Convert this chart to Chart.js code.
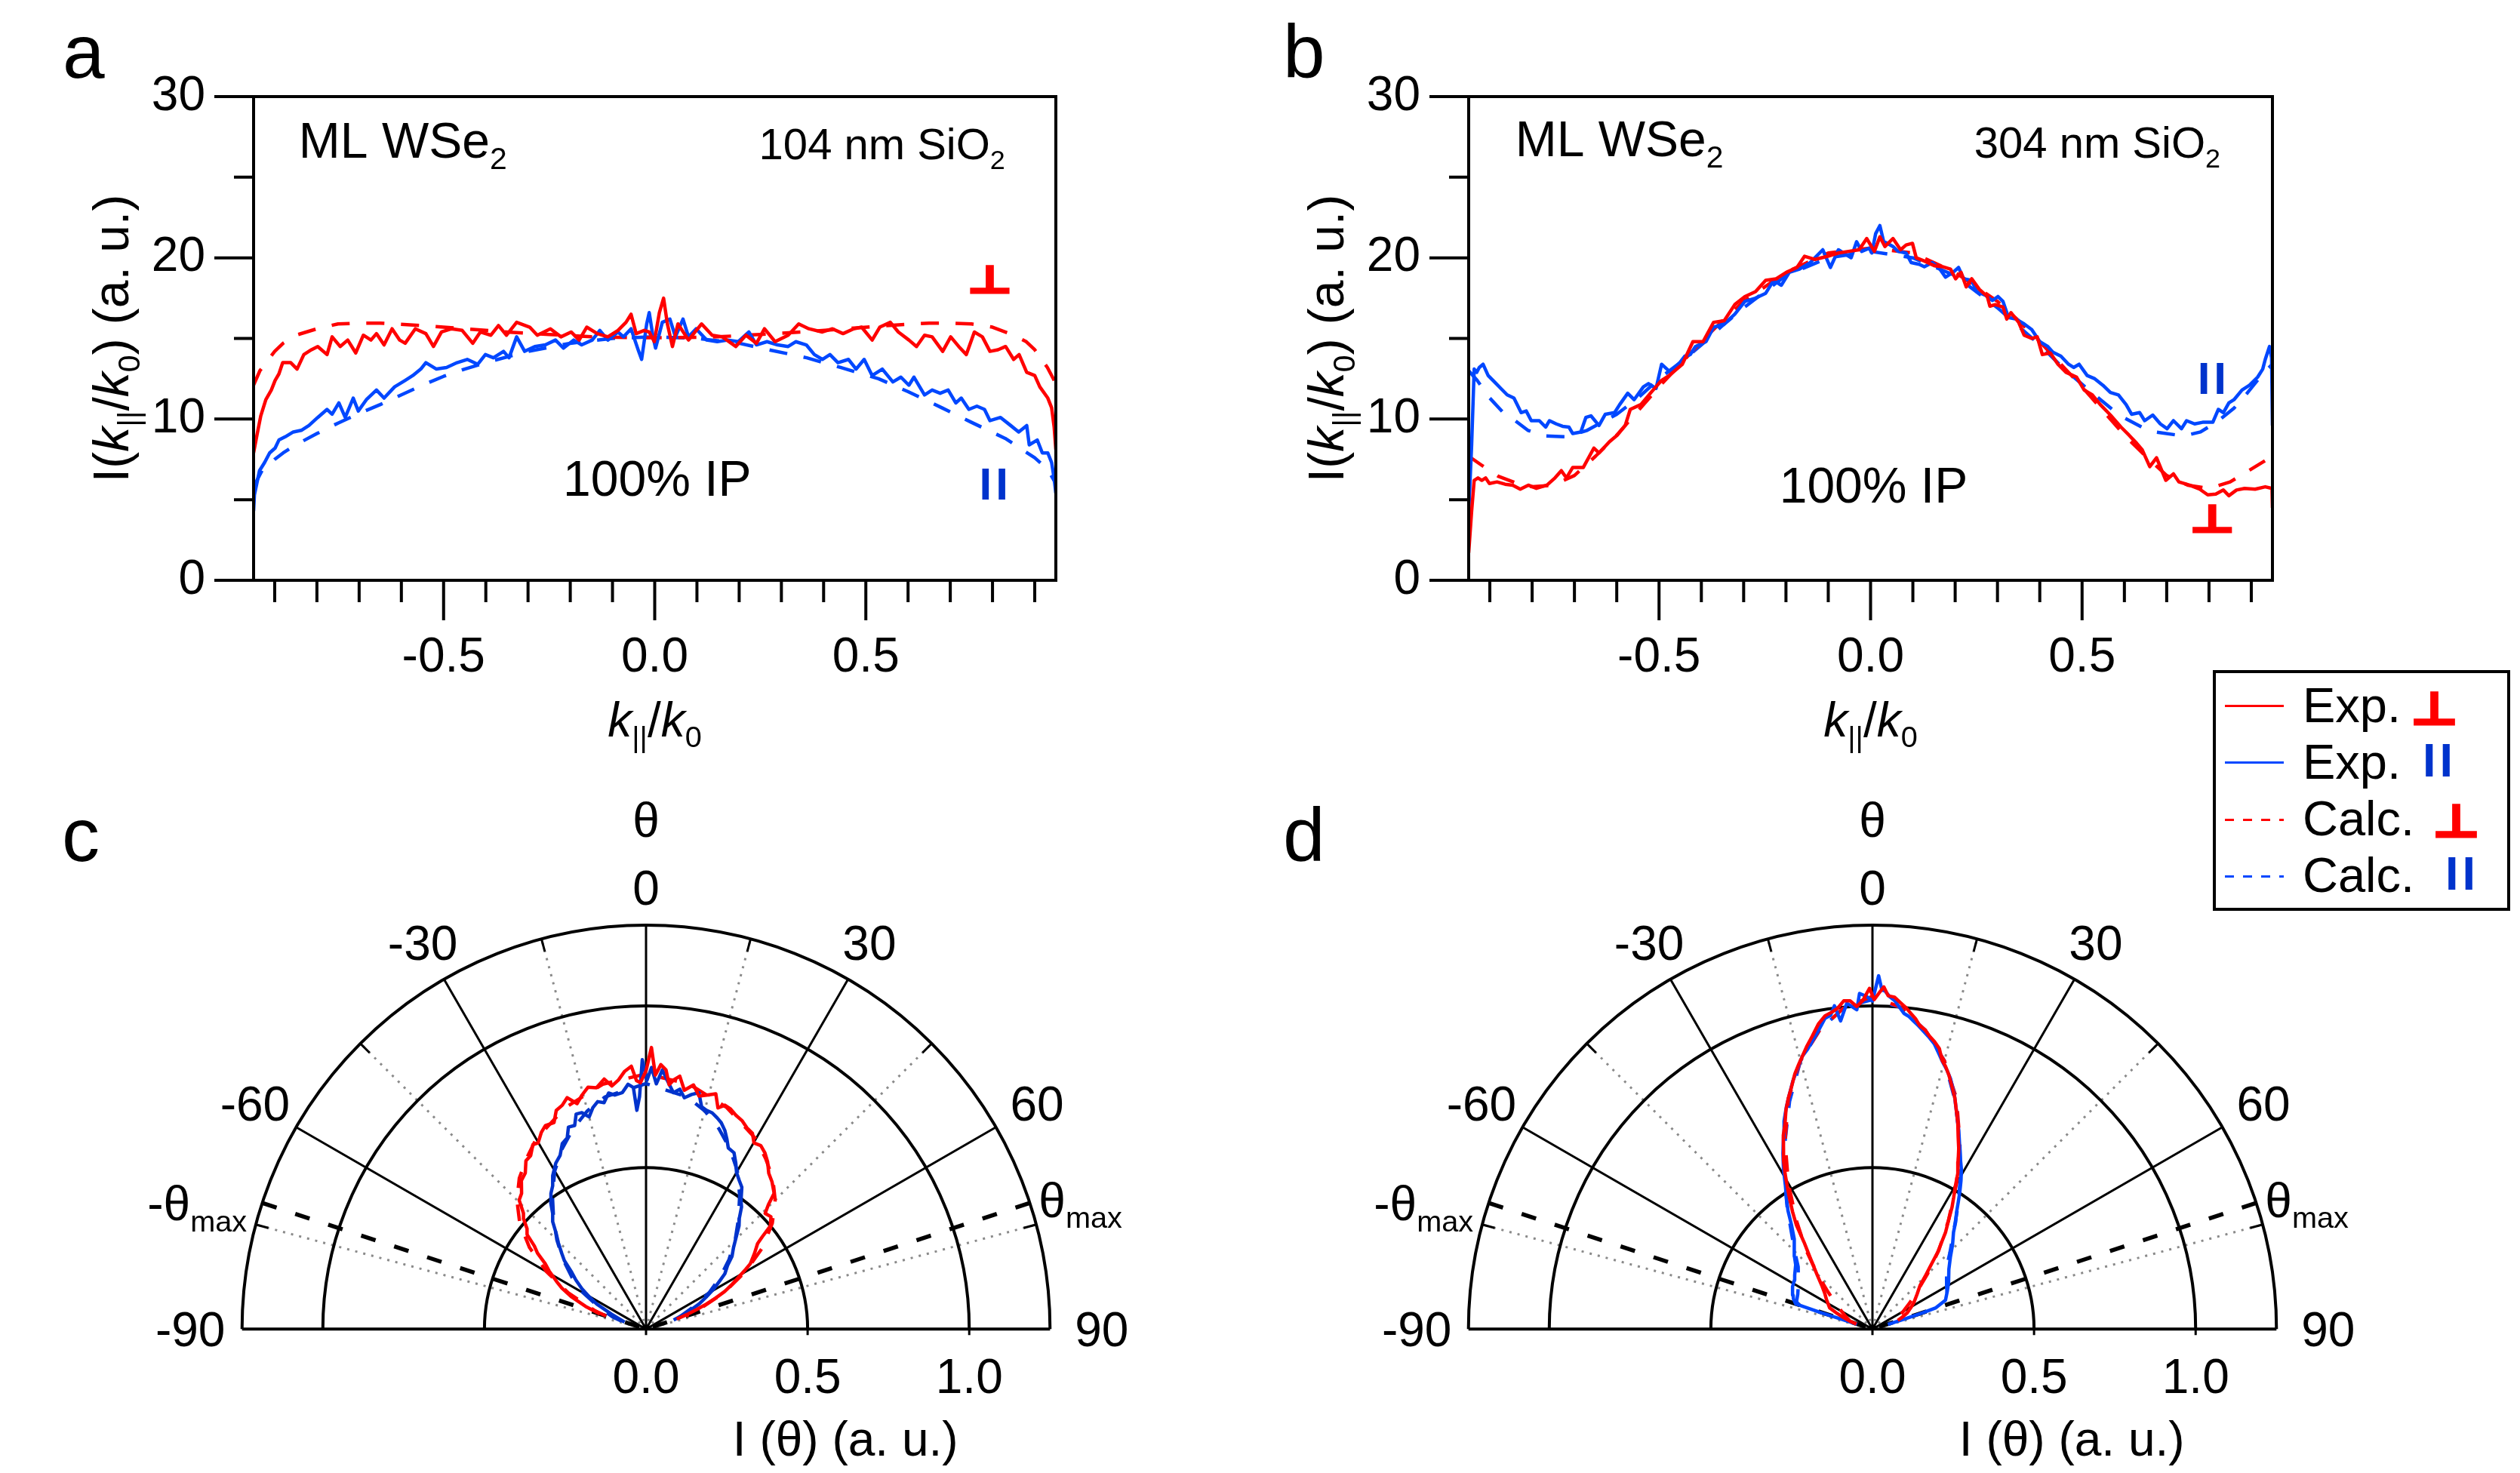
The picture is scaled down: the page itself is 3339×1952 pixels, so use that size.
<!DOCTYPE html>
<html>
<head>
<meta charset="utf-8">
<script src="https://cdn.jsdelivr.net/npm/chart.js@4.4.1/dist/chart.umd.min.js"></script>
<style>
  body { margin: 0; background: #fff; }
  #fig { position: relative; width: 3339px; height: 1952px; font-family: "Liberation Sans", Arial, Helvetica, sans-serif; }
  #fig canvas { position: absolute; }
  .tag { position: absolute; font-size: 100px; line-height: 1; }
  #legend { position: absolute; left: 2932px; top: 888px; width: 394px; height: 319px; box-sizing: border-box; border: 4px solid #000; }
  #legend .key { position: absolute; left: 12px; width: 78px; height: 3px; }
  #legend .txt { position: absolute; left: 115px; font-size: 65px; line-height: 1; white-space: nowrap; }
  #legend .perp { position: absolute; font-family: "DejaVu Sans", sans-serif; font-weight: bold; font-size: 60px; line-height: 1;
                  color: #ff0000; -webkit-text-stroke: 3px #ff0000; transform: scaleX(1.15); transform-origin: left bottom; }
  #legend .par { position: absolute; font-weight: bold; font-size: 63px; line-height: 1; letter-spacing: 5px; color: #0033cc; }
</style>
</head>
<body>
<div id="fig">
  <canvas id="ca" width="1440" height="1000" style="left:0;top:0"></canvas>
  <canvas id="cb" width="1440" height="1000" style="left:1610px;top:0"></canvas>
  <canvas id="cc" width="1456" height="899" style="left:128px;top:1055px"></canvas>
  <canvas id="cd" width="1456" height="899" style="left:1753px;top:1055px"></canvas>
  <div class="tag" style="left:83px;top:18px">a</div>
  <div class="tag" style="left:1700px;top:18px">b</div>
  <div class="tag" style="left:82px;top:1056px">c</div>
  <div class="tag" style="left:1700px;top:1056px">d</div>
  <div id="legend">
    <div class="key" style="top:42px;background:#ff0000"></div>
    <div class="key" style="top:117px;background:#0047ff"></div>
    <div class="key" style="top:193px;background:repeating-linear-gradient(to right,#ff0000 0 12px,transparent 12px 24px)"></div>
    <div class="key" style="top:268px;background:repeating-linear-gradient(to right,#0047ff 0 12px,transparent 12px 24px)"></div>
    <div class="txt" style="top:10px">Exp.</div>
    <div class="txt" style="top:85px">Exp.</div>
    <div class="txt" style="top:160px">Calc.</div>
    <div class="txt" style="top:235px">Calc.</div>
    <div class="perp" style="left:258px;top:17px">⊥</div>
    <div class="par" style="left:274px;top:84px">II</div>
    <div class="perp" style="left:287px;top:166px">⊥</div>
    <div class="par" style="left:304px;top:234px">II</div>
  </div>
</div>
<script>
const FONT = '"Liberation Sans", Arial, Helvetica, sans-serif';
const SYMFONT = '"DejaVu Sans", sans-serif';
const RED = '#ff0000', BLUE = '#0047ff', DBLUE = '#0033cc';

// axis ticks for panels a and b
const kTicks = [-0.9, -0.8, -0.7, -0.6, -0.5, -0.4, -0.3, -0.2, -0.1, 0, 0.1, 0.2, 0.3, 0.4, 0.5, 0.6, 0.7, 0.8, 0.9];
const kLabels = [-0.5, 0, 0.5];
const iTicks = [0, 5, 10, 15, 20, 25, 30];
const iLabels = [0, 10, 20, 30];

// panel a: 104 nm SiO2, [k/k0, I]
const aExpPerp = [[-0.95,7.9],[-0.942,9.0],[-0.933,10.2],[-0.921,11.2],[-0.908,11.8],[-0.899,12.4],[-0.89,12.8],[-0.881,13.5],[-0.862,13.5],[-0.847,13.1],
  [-0.831,14.0],[-0.813,14.3],[-0.798,14.5],[-0.776,14.0],[-0.764,15.1],[-0.745,14.5],[-0.727,14.9],[-0.708,14.1],[-0.69,15.2],[-0.672,14.9],
  [-0.659,15.3],[-0.641,14.6],[-0.622,15.6],[-0.604,14.9],[-0.591,14.7],[-0.567,15.6],[-0.542,15.3],[-0.524,14.5],[-0.505,15.4],[-0.481,15.6],
  [-0.456,15.5],[-0.431,14.7],[-0.413,15.4],[-0.388,15.2],[-0.37,15.8],[-0.351,15.2],[-0.327,16.0],[-0.296,15.7],[-0.278,15.2],[-0.247,15.6],
  [-0.222,15.1],[-0.198,15.4],[-0.179,14.9],[-0.161,15.7],[-0.136,15.3],[-0.111,15.1],[-0.087,15.5],[-0.068,16.0],[-0.056,16.5],[-0.044,15.3],
  [-0.025,15.5],[-0.013,15.4],[-0.001,14.8],[0.011,16.6],[0.021,17.5],[0.03,15.9],[0.042,14.5],[0.055,15.9],[0.08,14.9],[0.111,15.9],
  [0.136,15.2],[0.16,15.1],[0.192,14.5],[0.216,15.2],[0.241,14.7],[0.26,15.6],[0.285,14.8],[0.316,15.2],[0.341,15.9],[0.365,15.6],
  [0.397,15.4],[0.421,15.6],[0.446,15.3],[0.471,15.6],[0.49,15.7],[0.515,14.9],[0.533,15.7],[0.558,16.0],[0.577,15.4],[0.602,14.9],
  [0.62,14.5],[0.639,15.2],[0.657,15.1],[0.682,14.2],[0.701,15.1],[0.72,14.5],[0.738,14.0],[0.757,15.4],[0.776,15.1],[0.794,14.2],
  [0.813,14.3],[0.831,14.5],[0.85,13.7],[0.863,14.0],[0.881,12.9],[0.9,12.7],[0.912,12.0],[0.931,11.3],[0.94,10.7],[0.946,9.5],[0.95,8.1]];
const aExpPar = [[-0.95,4.3],[-0.948,5.3],[-0.936,6.8],[-0.924,7.3],[-0.912,7.9],[-0.899,8.2],[-0.89,8.7],[-0.875,8.9],[-0.856,9.2],[-0.837,9.3],
  [-0.819,9.6],[-0.798,10.1],[-0.776,10.6],[-0.764,10.3],[-0.748,11.0],[-0.733,10.1],[-0.714,11.3],[-0.702,10.5],[-0.683,11.2],[-0.659,11.8],
  [-0.641,11.3],[-0.616,12.0],[-0.591,12.4],[-0.573,12.7],[-0.554,13.1],[-0.542,13.5],[-0.517,13.1],[-0.493,13.2],[-0.468,13.5],[-0.444,13.7],
  [-0.419,13.4],[-0.401,14.0],[-0.382,13.8],[-0.358,14.2],[-0.345,13.8],[-0.327,15.1],[-0.308,14.2],[-0.284,14.5],[-0.259,14.6],[-0.235,14.9],
  [-0.216,14.4],[-0.192,14.9],[-0.173,14.6],[-0.148,14.9],[-0.13,15.5],[-0.111,14.9],[-0.087,15.4],[-0.074,15.1],[-0.056,15.6],[-0.038,14.2],
  [-0.031,13.7],[-0.019,15.9],[-0.013,16.6],[-0.004,15.1],[0.002,14.4],[0.018,16.0],[0.036,16.2],[0.049,15.1],[0.067,16.2],[0.08,15.1],
  [0.098,15.6],[0.123,14.9],[0.148,14.8],[0.173,14.9],[0.198,14.8],[0.223,15.4],[0.241,14.6],[0.266,14.8],[0.291,14.6],[0.316,14.5],
  [0.334,14.8],[0.359,14.6],[0.378,14.0],[0.397,13.7],[0.415,14.0],[0.434,13.5],[0.459,13.7],[0.477,13.1],[0.496,13.7],[0.515,12.7],
  [0.539,13.1],[0.564,12.3],[0.583,12.6],[0.602,12.1],[0.614,12.6],[0.639,11.5],[0.657,11.8],[0.676,11.6],[0.695,11.8],[0.713,11.0],
  [0.726,11.3],[0.744,10.6],[0.763,10.8],[0.781,10.6],[0.794,9.9],[0.819,10.1],[0.843,9.6],[0.862,9.2],[0.881,9.6],[0.887,8.4],
  [0.906,8.7],[0.918,7.9],[0.931,7.9],[0.94,7.3],[0.946,6.3],[0.95,5.4]];
const aCalcPerp = [[-0.95,12.1],[-0.935,13.0],[-0.9,14.2],[-0.88,14.7],[-0.85,15.2],[-0.8,15.6],[-0.75,15.9],[-0.7,15.95],[-0.65,15.95],[-0.55,15.8],
  [-0.45,15.6],[-0.35,15.4],[-0.25,15.25],[-0.15,15.1],[-0.05,15.05],[0.05,15.05],[0.15,15.1],[0.25,15.25],[0.35,15.4],[0.45,15.6],
  [0.55,15.8],[0.65,15.95],[0.7,15.95],[0.75,15.9],[0.8,15.7],[0.85,15.2],[0.88,14.8],[0.9,14.3],[0.93,13.2],[0.95,12.2]];
const aCalcPar = [[-0.95,5.8],[-0.93,6.8],[-0.9,7.5],[-0.88,7.9],[-0.85,8.4],[-0.8,9.1],[-0.75,9.75],[-0.7,10.35],[-0.65,10.9],[-0.6,11.5],
  [-0.55,12.1],[-0.5,12.65],[-0.45,13.1],[-0.4,13.5],[-0.3,14.2],[-0.2,14.7],[-0.1,15.0],[0,15.1],[0.1,15.0],[0.2,14.7],
  [0.27,14.3],[0.36,13.8],[0.44,13.2],[0.53,12.5],[0.6,11.7],[0.68,10.7],[0.75,9.8],[0.83,8.8],[0.9,7.6],[0.93,6.9],[0.95,6.0]];

// panel b: 304 nm SiO2, [k/k0, I]
const bExpPerp = [[-0.95,1.7],[-0.943,4.3],[-0.937,6.2],[-0.928,6.35],[-0.919,6.2],[-0.91,6.35],[-0.901,6.0],[-0.883,6.1],[-0.864,5.96],[-0.846,5.9],
  [-0.828,5.65],[-0.809,5.9],[-0.79,5.7],[-0.765,5.9],[-0.746,6.35],[-0.731,6.8],[-0.719,6.35],[-0.704,7.0],[-0.679,7.0],[-0.654,8.2],
  [-0.642,7.9],[-0.617,8.6],[-0.599,9.0],[-0.58,9.6],[-0.568,10.6],[-0.543,10.9],[-0.519,11.65],[-0.494,12.4],[-0.476,12.7],[-0.445,13.4],
  [-0.42,14.8],[-0.396,14.8],[-0.371,16.0],[-0.346,16.1],[-0.321,17.1],[-0.297,17.6],[-0.272,17.9],[-0.248,18.6],[-0.223,18.7],[-0.199,19.1],
  [-0.174,19.4],[-0.156,20.1],[-0.131,19.9],[-0.101,20.1],[-0.076,20.3],[-0.052,20.4],[-0.027,20.5],[-0.009,21.2],[0.009,20.4],[0.022,21.3],
  [0.034,20.7],[0.053,21.2],[0.071,20.5],[0.084,20.8],[0.099,20.9],[0.108,20.0],[0.127,19.8],[0.152,19.5],[0.17,19.45],[0.189,19.3],
  [0.201,18.7],[0.214,19.1],[0.226,18.2],[0.239,18.7],[0.257,18.05],[0.276,17.6],[0.282,17.0],[0.295,17.1],[0.313,16.95],[0.322,16.2],
  [0.332,16.6],[0.35,16.0],[0.363,15.2],[0.381,15.0],[0.394,15.1],[0.406,14.0],[0.425,14.1],[0.443,13.4],[0.462,12.9],[0.487,12.6],
  [0.505,11.8],[0.524,11.5],[0.543,10.9],[0.567,10.25],[0.592,9.5],[0.611,9.0],[0.629,8.5],[0.642,8.1],[0.66,7.05],[0.676,7.6],
  [0.698,6.2],[0.716,6.6],[0.729,6.1],[0.754,5.9],[0.778,5.65],[0.797,5.3],[0.816,5.35],[0.834,5.6],[0.847,5.25],[0.865,5.6],
  [0.884,5.7],[0.909,5.65],[0.933,5.8],[0.949,5.7],[0.95,4.5]];
const bExpPar = [[-0.95,4.2],[-0.943,8.4],[-0.937,13.1],[-0.931,12.9],[-0.925,13.2],[-0.916,13.4],[-0.904,12.7],[-0.889,12.3],[-0.874,11.9],[-0.859,11.5],
  [-0.843,11.3],[-0.826,10.4],[-0.814,10.5],[-0.802,9.9],[-0.783,9.9],[-0.768,9.5],[-0.759,9.9],[-0.743,9.7],[-0.728,9.55],[-0.713,9.5],
  [-0.704,9.1],[-0.685,9.2],[-0.673,10.1],[-0.661,10.2],[-0.642,9.6],[-0.627,10.3],[-0.605,10.4],[-0.593,10.9],[-0.574,11.6],[-0.559,11.2],
  [-0.537,12.0],[-0.525,12.2],[-0.507,11.9],[-0.494,13.4],[-0.473,12.9],[-0.451,13.5],[-0.439,13.9],[-0.426,14.0],[-0.414,14.5],[-0.389,14.8],
  [-0.371,15.7],[-0.346,15.9],[-0.321,16.5],[-0.297,17.3],[-0.272,17.5],[-0.248,17.8],[-0.229,18.6],[-0.211,18.3],[-0.192,19.1],[-0.168,19.3],
  [-0.143,19.7],[-0.113,20.5],[-0.095,19.4],[-0.076,20.5],[-0.046,20.0],[-0.033,21.0],[-0.021,20.4],[-0.003,20.6],[0.003,20.3],[0.012,21.5],
  [0.022,22.0],[0.031,21.0],[0.04,20.9],[0.053,20.7],[0.065,20.4],[0.084,20.3],[0.096,19.7],[0.115,19.6],[0.127,19.45],[0.146,19.7],
  [0.164,19.3],[0.177,18.8],[0.195,19.1],[0.208,19.4],[0.22,18.7],[0.239,18.6],[0.251,17.9],[0.27,17.7],[0.288,17.35],[0.301,17.6],
  [0.313,17.3],[0.326,16.3],[0.344,16.2],[0.363,15.9],[0.381,15.55],[0.4,14.8],[0.419,14.5],[0.431,14.15],[0.45,13.9],[0.468,13.4],
  [0.48,13.2],[0.493,13.4],[0.512,12.7],[0.53,12.5],[0.549,12.1],[0.567,11.65],[0.586,11.5],[0.604,10.9],[0.617,10.3],[0.636,10.4],
  [0.648,9.9],[0.667,10.25],[0.685,9.7],[0.701,9.4],[0.716,9.9],[0.735,9.4],[0.747,9.9],[0.766,9.7],[0.785,9.8],[0.809,9.8],
  [0.822,10.6],[0.834,10.4],[0.847,11.0],[0.859,11.2],[0.878,11.8],[0.896,12.1],[0.915,12.6],[0.927,13.1],[0.933,13.7],[0.943,14.5],
  [0.948,13.8],[0.95,9.6]];
const bCalcPerp = [[-0.95,7.7],[-0.92,7.15],[-0.88,6.45],[-0.84,6.05],[-0.8,5.8],[-0.75,5.9],[-0.7,6.5],[-0.65,7.7],[-0.6,9.0],[-0.55,10.5],
  [-0.5,12.0],[-0.45,13.4],[-0.4,14.8],[-0.35,16.1],[-0.3,17.3],[-0.2,19.1],[-0.1,20.3],[0,20.6],[0.1,20.3],[0.2,19.1],
  [0.3,17.3],[0.35,16.1],[0.4,14.8],[0.45,13.4],[0.5,12.0],[0.55,10.5],[0.6,9.0],[0.65,7.7],[0.7,6.5],[0.75,5.9],
  [0.8,5.7],[0.85,6.1],[0.9,6.9],[0.95,7.7]];
const bCalcPar = [[-0.95,13.0],[-0.93,12.4],[-0.9,11.3],[-0.87,10.45],[-0.84,9.9],[-0.81,9.3],[-0.77,8.95],[-0.72,8.9],[-0.67,9.3],[-0.6,10.3],
  [-0.55,11.3],[-0.5,12.5],[-0.45,13.5],[-0.4,14.6],[-0.35,15.8],[-0.3,16.9],[-0.2,18.9],[-0.1,20.0],[0,20.4],[0.1,20.0],
  [0.2,18.9],[0.3,16.9],[0.4,14.6],[0.45,13.3],[0.52,11.7],[0.59,10.2],[0.66,9.25],[0.74,8.95],[0.78,9.2],[0.82,9.85],
  [0.86,10.7],[0.89,11.6],[0.93,12.9],[0.95,13.4]];

// panel c: 104 nm SiO2, [theta (deg), I(theta)]
const cExpPerp = [[-71.8,0.15],[-69.4,0.2],[-66.5,0.253],[-64,0.29],[-61.9,0.314],[-59,0.35],[-57,0.372],[-55,0.41],[-53.3,0.431],[-51.5,0.47],
  [-49.8,0.482],[-48,0.51],[-46.6,0.522],[-44.5,0.56],[-42.5,0.57],[-40,0.6],[-37.7,0.611],[-35.5,0.64],[-33.6,0.645],[-31.5,0.67],
  [-30.1,0.666],[-28,0.69],[-26.3,0.703],[-24,0.7],[-22.3,0.732],[-20.5,0.74],[-18.8,0.757],[-17,0.73],[-15.3,0.751],[-13.5,0.77],
  [-11.6,0.763],[-9.5,0.785],[-8,0.76],[-6.3,0.776],[-4.8,0.8],[-3.2,0.815],[-2.2,0.77],[-1.3,0.763],[0,0.8],[1.1,0.872],
  [2.1,0.787],[3.2,0.82],[4.4,0.805],[5.4,0.76],[6.3,0.776],[7.6,0.79],[9.1,0.749],[11,0.77],[12.8,0.74],[14.5,0.748],
  [16.5,0.76],[18,0.72],[19.4,0.735],[21,0.73],[22.8,0.718],[24.8,0.71],[26.6,0.697],[28.5,0.69],[30.1,0.666],[32,0.67],
  [34,0.658],[36,0.64],[38.2,0.614],[40.5,0.6],[43.3,0.578],[44.5,0.54],[45.8,0.514],[48,0.52],[50.3,0.5],[51.5,0.46],
  [52.5,0.435],[55,0.41],[57.9,0.381],[59,0.36],[60.5,0.332],[62.5,0.3],[64.4,0.27],[66,0.235],[67.4,0.202],[68.8,0.17],
  [70.2,0.138],[71.8,0.1]];
const cExpPar = [[-71.8,0.07],[-69,0.09],[-66.5,0.117],[-63,0.171],[-60.5,0.2],[-57.8,0.234],[-55,0.265],[-52.3,0.293],[-50,0.33],[-48.1,0.35],
  [-45.5,0.38],[-43.2,0.406],[-41,0.44],[-38.9,0.46],[-37,0.49],[-35,0.513],[-33,0.53],[-31.3,0.556],[-28.5,0.585],[-26.3,0.6],
  [-24.3,0.63],[-22.4,0.64],[-21,0.67],[-19.3,0.668],[-18,0.7],[-16.5,0.699],[-15,0.68],[-13.5,0.705],[-12,0.72],[-10.5,0.713],
  [-9,0.74],[-7.6,0.731],[-5.7,0.736],[-4.2,0.76],[-3,0.749],[-2.4,0.678],[-1.6,0.72],[-0.8,0.834],[0.2,0.77],[1.2,0.81],
  [2.4,0.76],[3.6,0.804],[5,0.77],[6.6,0.737],[8,0.75],[9.4,0.726],[11,0.74],[12.6,0.75],[14,0.71],[15.4,0.703],
  [17,0.7],[18.6,0.69],[20,0.68],[21.6,0.662],[23,0.64],[24.4,0.616],[26.5,0.61],[28.4,0.584],[30,0.56],[32.1,0.543],
  [34,0.53],[36.5,0.494],[38,0.48],[40.1,0.448],[42,0.43],[44.7,0.395],[47,0.37],[49.7,0.349],[52,0.32],[54.9,0.298],
  [57,0.27],[59.3,0.244],[62,0.21],[64.6,0.182],[66.5,0.155],[68.6,0.128],[71.8,0.09]];
const cCalcPerp = [[-71.8,0.13],[-70,0.17],[-65,0.265],[-60,0.355],[-55,0.44],[-50,0.51],[-45,0.565],[-40,0.61],[-35,0.645],[-30,0.68],
  [-20,0.73],[-10,0.77],[0,0.79],[10,0.77],[20,0.73],[30,0.68],[35,0.645],[40,0.61],[45,0.565],[50,0.51],
  [55,0.44],[60,0.355],[65,0.265],[70,0.17],[71.8,0.13]];
const cCalcPar = [[-71.8,0.08],[-70,0.11],[-65,0.16],[-60,0.225],[-55,0.28],[-50,0.335],[-45,0.39],[-40,0.445],[-35,0.505],[-30,0.565],
  [-25,0.615],[-20,0.66],[-15,0.7],[-10,0.73],[0,0.76],[10,0.73],[15,0.7],[20,0.66],[25,0.615],[30,0.565],
  [35,0.505],[40,0.445],[45,0.39],[50,0.335],[55,0.28],[60,0.225],[65,0.16],[70,0.11],[71.8,0.08]];

// panel d: 304 nm SiO2, [theta (deg), I(theta)]
const dExpPerp = [[-72.4,0.052],[-70.5,0.075],[-68.4,0.095],[-66,0.12],[-63.5,0.148],[-57,0.17],[-53,0.185],[-49.1,0.208],[-45.5,0.24],[-42.2,0.278],
  [-40,0.31],[-38.2,0.342],[-36.1,0.4],[-34.2,0.44],[-32.5,0.476],[-31,0.51],[-29.4,0.55],[-27.8,0.59],[-26.3,0.621],[-24.7,0.66],
  [-23.1,0.69],[-21.5,0.73],[-20.1,0.759],[-18.5,0.79],[-16.9,0.826],[-15.6,0.85],[-14.4,0.872],[-13,0.9],[-11.6,0.926],[-10,0.96],
  [-8.6,0.981],[-7.2,0.99],[-6.2,0.999],[-5,1.02],[-3.9,1.019],[-2.8,1.0],[-1.7,1.017],[-0.5,1.055],[0.3,1.02],[1.1,1.04],
  [1.9,1.06],[2.7,1.033],[3.8,1.03],[5,1.013],[6,1.0],[6.9,0.985],[7.9,0.97],[8.9,0.95],[10,0.94],[11,0.924],
  [12.2,0.91],[13.4,0.893],[14.5,0.86],[15.5,0.845],[16.8,0.82],[18.1,0.791],[19.6,0.76],[21.1,0.722],[22.5,0.69],[24,0.652],
  [25.5,0.62],[27.1,0.582],[28.7,0.55],[30.2,0.509],[31.6,0.48],[33.1,0.451],[35,0.41],[37,0.376],[38.7,0.34],[40.3,0.312],
  [42.9,0.26],[45,0.23],[47.3,0.201],[52,0.175],[57.4,0.152],[61,0.135],[64.9,0.119],[68,0.1],[70.9,0.083]];
const dExpPar = [[-72.5,0.05],[-72.3,0.17],[-71.8,0.25],[-69,0.262],[-66.8,0.267],[-62,0.28],[-58,0.285],[-55.2,0.293],[-50,0.31],[-47,0.33],
  [-44.5,0.344],[-41,0.37],[-37.8,0.409],[-35.5,0.45],[-33.5,0.481],[-31.2,0.52],[-29.1,0.566],[-27,0.61],[-24.8,0.656],[-23,0.7],
  [-21.1,0.739],[-19.5,0.77],[-17.8,0.806],[-16,0.84],[-14.4,0.872],[-13,0.89],[-11.8,0.911],[-10.2,0.94],[-8.7,0.973],[-7.6,0.98],
  [-6.7,1.008],[-5.9,0.959],[-4.5,1.012],[-3.6,1.0],[-2.8,0.99],[-2.2,1.04],[-1,1.03],[0,1.016],[1,1.094],[1.6,1.05],
  [2.1,1.048],[3,1.03],[3.9,1.019],[4.8,1.0],[5.7,0.982],[6.6,0.975],[7.6,0.962],[8.6,0.95],[9.7,0.936],[11,0.92],
  [12.2,0.904],[13.4,0.88],[14.6,0.857],[16,0.835],[17.3,0.812],[19.2,0.77],[21.1,0.722],[23.5,0.67],[25.9,0.619],[27.5,0.59],
  [29.1,0.566],[30.8,0.535],[32.5,0.503],[34,0.475],[35.7,0.446],[37.8,0.42],[39.9,0.391],[43.5,0.36],[47.3,0.328],[52,0.3],
  [58.6,0.276],[63,0.26],[68.4,0.243],[71.4,0.207],[72,0.164],[72.5,0.112],[72.8,0.05]];
const dCalcPerp = [[-71.8,0.07],[-70,0.075],[-65,0.09],[-60,0.11],[-55,0.14],[-50,0.18],[-45,0.24],[-40,0.32],[-35,0.41],[-30,0.52],
  [-25,0.64],[-20,0.76],[-15,0.86],[-10,0.94],[-5,1.0],[0,1.03],[5,1.0],[10,0.94],[15,0.86],[20,0.76],
  [25,0.64],[30,0.52],[35,0.41],[40,0.32],[45,0.24],[50,0.18],[55,0.14],[60,0.11],[65,0.09],[70,0.075],[71.8,0.07]];
const dCalcPar = [[-71.8,0.24],[-70,0.25],[-65,0.255],[-60,0.265],[-55,0.28],[-50,0.3],[-45,0.34],[-40,0.39],[-35,0.46],[-30,0.545],
  [-25,0.64],[-20,0.75],[-15,0.86],[-10,0.94],[-5,1.0],[0,1.02],[5,1.0],[10,0.94],[15,0.86],[20,0.75],
  [25,0.64],[30,0.545],[35,0.46],[40,0.39],[45,0.34],[50,0.3],[55,0.28],[60,0.265],[65,0.255],[70,0.25],[71.8,0.24]];

// polar grid
const rings = [0.5, 1.0, 1.25];
const solidSpokes = [-60, -30, 0, 30, 60];
const dottedSpokes = [-75, -45, -15, 15, 45, 75];
const angleLabels = [-90, -60, -30, 0, 30, 60, 90];
const rLabels = [0, 0.5, 1.0];
const thetaMax = 71.8;

// draw a string made of normal / italic / subscript pieces, y is the baseline
function drawRich(ctx, parts, x, y, size, align) {
  const segs = parts.map(([t, k]) => {
    const sub = k.includes('s');
    const it = k.includes('i');
    const font = (it ? 'italic ' : '') + (sub ? size * 0.62 : size) + 'px ' + FONT;
    ctx.font = font;
    return { t, font, w: ctx.measureText(t).width, dy: sub ? size * 0.22 : 0 };
  });
  const total = segs.reduce((s, p) => s + p.w, 0);
  let cx = align === 'center' ? x - total / 2 : align === 'right' ? x - total : x;
  ctx.textAlign = 'left';
  ctx.textBaseline = 'alphabetic';
  segs.forEach(p => { ctx.font = p.font; ctx.fillText(p.t, cx, y + p.dy); cx += p.w; });
}

// polarisation marks: bold perpendicular sign, or the two bars of the parallel sign
function drawSym(ctx, n, x, y) {
  ctx.save();
  ctx.translate(x, y);
  ctx.fillStyle = n.color;
  ctx.strokeStyle = n.color;
  ctx.textAlign = 'center';
  ctx.textBaseline = 'alphabetic';
  if (n.sym === '⊥') {
    ctx.scale(1.3, 1);
    ctx.font = 'bold ' + n.size + 'px ' + SYMFONT;
    ctx.lineWidth = 3;
    ctx.fillText(n.sym, 0, 0);
    ctx.strokeText(n.sym, 0, 0);
  } else {
    ctx.font = 'bold ' + n.size + 'px ' + FONT;
    ctx.letterSpacing = '5px';
    ctx.fillText(n.sym, 2.5, 0);
  }
  ctx.restore();
}

const yTitle = [['I(', ''], ['k', 'i'], ['||', 's'], ['/', ''], ['k', 'i'], ['0', 's'], [') (a. u.)', '']];
const xTitle = [['k', 'i'], ['||', 's'], ['/', ''], ['k', 'i'], ['0', 's']];

const frameTicks = {
  id: 'frameTicks',
  afterDraw(chart) {
    const { ctx, chartArea: a, scales: { x, y } } = chart;
    ctx.save();
    ctx.strokeStyle = '#000';
    ctx.lineWidth = 4;
    ctx.strokeRect(a.left, a.top, a.right - a.left, a.bottom - a.top);
    ctx.beginPath();
    kTicks.forEach(v => {
      const px = x.getPixelForValue(v);
      ctx.moveTo(px, a.bottom);
      ctx.lineTo(px, a.bottom + (kLabels.includes(v) ? 53 : 29));
    });
    iTicks.forEach(v => {
      const py = y.getPixelForValue(v);
      ctx.moveTo(a.left, py);
      ctx.lineTo(a.left - (iLabels.includes(v) ? 52 : 26), py);
    });
    ctx.stroke();
    ctx.fillStyle = '#000';
    drawRich(ctx, xTitle, x.getPixelForValue(0), a.bottom + 207, 64, 'center');
    ctx.translate(a.left - 166, (a.top + a.bottom) / 2);
    ctx.rotate(-Math.PI / 2);
    drawRich(ctx, yTitle, 0, 0, 66, 'center');
    ctx.restore();
  }
};

function notePlugin(notes) {
  return {
    id: 'notes',
    afterDraw(chart) {
      const { ctx, scales: { x, y } } = chart;
      ctx.save();
      notes.forEach(n => {
        const px = x.getPixelForValue(n.k), py = y.getPixelForValue(n.v);
        if (n.sym) drawSym(ctx, n, px, py);
        else { ctx.fillStyle = '#000'; drawRich(ctx, n.parts, px, py, n.size, n.align); }
      });
      ctx.restore();
    }
  };
}

function linePanel(id, series, notes, rightPad) {
  return new Chart(document.getElementById(id), {
    type: 'scatter',
    data: {
      datasets: series.map(s => ({
        data: s.pts.map(p => ({ x: p[0], y: p[1] })),
        showLine: true,
        borderColor: s.color,
        borderWidth: 4.5,
        borderDash: s.dash ? [24, 22] : [],
        borderJoinStyle: 'round',
        pointRadius: 0
      }))
    },
    options: {
      responsive: false,
      animation: false,
      devicePixelRatio: 1,
      layout: { padding: { left: 0, top: 128, right: rightPad, bottom: 0 } },
      plugins: { legend: { display: false }, tooltip: { enabled: false } },
      scales: {
        x: {
          type: 'linear', min: -0.95, max: 0.95,
          afterBuildTicks: s => { s.ticks = kLabels.map(v => ({ value: v })); },
          afterFit: s => { s.height = 231; },
          grid: { display: false, drawTicks: false },
          border: { display: false },
          ticks: { padding: 65, color: '#000', font: { family: FONT, size: 64 }, maxRotation: 0, autoSkip: false,
                   callback: v => Number(v).toFixed(1) }
        },
        y: {
          type: 'linear', min: 0, max: 30,
          afterBuildTicks: s => { s.ticks = iLabels.map(v => ({ value: v })); },
          afterFit: s => { s.width = 336; },
          grid: { display: false, drawTicks: false },
          border: { display: false },
          ticks: { padding: 64, color: '#000', font: { family: FONT, size: 64 }, callback: v => String(v) }
        }
      }
    },
    plugins: [frameTicks, notePlugin(notes)]
  });
}

linePanel('ca', [
  { pts: aExpPerp, color: RED },
  { pts: aExpPar, color: BLUE },
  { pts: aCalcPerp, color: RED, dash: true },
  { pts: aCalcPar, color: BLUE, dash: true }
], [
  { k: -0.843, v: 26.2, parts: [['ML WSe', ''], ['2', 's']], size: 66, align: 'left' },
  { k: 0.83, v: 26.1, parts: [['104 nm SiO', ''], ['2', 's']], size: 58, align: 'right' },
  { k: 0.006, v: 5.24, parts: [['100% IP', '']], size: 66, align: 'center' },
  { k: 0.794, v: 17.83, sym: '⊥', size: 50, color: RED },
  { k: 0.803, v: 5.0, sym: 'II', size: 60, color: DBLUE }
], 41);

linePanel('cb', [
  { pts: bExpPerp, color: RED },
  { pts: bExpPar, color: BLUE },
  { pts: bCalcPerp, color: RED, dash: true },
  { pts: bCalcPar, color: BLUE, dash: true }
], [
  { k: -0.84, v: 26.3, parts: [['ML WSe', ''], ['2', 's']], size: 66, align: 'left' },
  { k: 0.827, v: 26.2, parts: [['304 nm SiO', ''], ['2', 's']], size: 58, align: 'right' },
  { k: 0.007, v: 4.82, parts: [['100% IP', '']], size: 66, align: 'center' },
  { k: 0.808, v: 3.0, sym: '⊥', size: 50, color: RED },
  { k: 0.807, v: 11.57, sym: 'II', size: 60, color: DBLUE }
], 39);

const polarGrid = {
  id: 'polarGrid',
  beforeDatasetsDraw(chart) {
    const { ctx, scales: { x, y } } = chart;
    const cx = x.getPixelForValue(0), cy = y.getPixelForValue(0);
    const u = x.getPixelForValue(1) - cx;
    const R = rings[rings.length - 1];
    const pt = (deg, r) => [cx + r * u * Math.sin(deg * Math.PI / 180), cy - r * u * Math.cos(deg * Math.PI / 180)];
    ctx.save();
    ctx.lineCap = 'butt';
    // dotted spokes
    ctx.strokeStyle = '#8a8a8a';
    ctx.lineWidth = 3;
    ctx.setLineDash([3, 8]);
    ctx.beginPath();
    dottedSpokes.forEach(d => { const p = pt(d, R); ctx.moveTo(cx, cy); ctx.lineTo(p[0], p[1]); });
    ctx.stroke();
    ctx.setLineDash([]);
    // solid spokes
    ctx.strokeStyle = '#000';
    ctx.lineWidth = 3;
    ctx.beginPath();
    solidSpokes.forEach(d => { const p = pt(d, R); ctx.moveTo(cx, cy); ctx.lineTo(p[0], p[1]); });
    // minor ticks on outer ring
    dottedSpokes.forEach(d => { const p = pt(d, R), q = pt(d, R - 0.04); ctx.moveTo(p[0], p[1]); ctx.lineTo(q[0], q[1]); });
    ctx.stroke();
    // rings
    ctx.lineWidth = 4;
    rings.forEach(r => { ctx.beginPath(); ctx.arc(cx, cy, r * u, Math.PI, 2 * Math.PI); ctx.stroke(); });
    // base line and radial ticks
    ctx.beginPath();
    ctx.moveTo(cx - R * u, cy);
    ctx.lineTo(cx + R * u, cy);
    ctx.stroke();
    ctx.lineWidth = 3;
    ctx.beginPath();
    rLabels.forEach(r => { ctx.moveTo(cx + r * u, cy); ctx.lineTo(cx + r * u, cy + 8); });
    ctx.stroke();
    // theta max
    ctx.lineWidth = 5.5;
    ctx.setLineDash([20, 26]);
    ctx.beginPath();
    [-thetaMax, thetaMax].forEach(d => { const p = pt(d, R); ctx.moveTo(p[0], p[1]); ctx.lineTo(cx, cy); });
    ctx.stroke();
    ctx.restore();
  },
  afterDraw(chart) {
    const { ctx, scales: { x, y } } = chart;
    const X = v => x.getPixelForValue(v), Y = v => y.getPixelForValue(v);
    const lr = { 0: 1.368, 30: 1.382, 60: 1.397, 90: 1.41 };
    ctx.save();
    ctx.fillStyle = '#000';
    const S = 64, off = S * 0.36;
    angleLabels.forEach(d => {
      const r = lr[Math.abs(d)], t = d * Math.PI / 180;
      drawRich(ctx, [[String(d), '']], X(r * Math.sin(t)), Y(r * Math.cos(t)) + off, S, 'center');
    });
    drawRich(ctx, [['θ', '']], X(0), Y(1.577) + off, S, 'center');
    drawRich(ctx, [['-θ', ''], ['max', 's']], X(-1.235), Y(0.39) + off, S, 'right');
    drawRich(ctx, [['θ', ''], ['max', 's']], X(1.215), Y(0.40) + off, S, 'left');
    rLabels.forEach(r => drawRich(ctx, [[r.toFixed(1), '']], X(r), Y(-0.145) + off, S, 'center'));
    drawRich(ctx, [['I (θ) (a. u.)', '']], X(0.617), Y(-0.338) + off, S, 'center');
    ctx.restore();
  }
};

function polarPanel(id, series) {
  const toXY = pts => pts.map(([d, r]) => ({ x: r * Math.sin(d * Math.PI / 180), y: r * Math.cos(d * Math.PI / 180) }));
  return new Chart(document.getElementById(id), {
    type: 'scatter',
    data: {
      datasets: series.map(s => ({
        data: toXY(s.pts),
        showLine: true,
        borderColor: s.color,
        borderWidth: 4.5,
        borderDash: s.dash ? [22, 22] : [],
        borderJoinStyle: 'round',
        pointRadius: 0
      }))
    },
    options: {
      responsive: false,
      animation: false,
      devicePixelRatio: 1,
      layout: { padding: 0 },
      plugins: { legend: { display: false }, tooltip: { enabled: false } },
      scales: {
        x: { type: 'linear', min: -1.7, max: 1.7, display: false },
        y: { type: 'linear', min: -0.45, max: 1.65, display: false }
      }
    },
    plugins: [polarGrid]
  });
}

polarPanel('cc', [
  { pts: cExpPerp, color: RED },
  { pts: cExpPar, color: DBLUE },
  { pts: cCalcPerp, color: RED, dash: true },
  { pts: cCalcPar, color: DBLUE, dash: true }
]);
polarPanel('cd', [
  { pts: dExpPerp, color: RED },
  { pts: dExpPar, color: BLUE },
  { pts: dCalcPerp, color: RED, dash: true },
  { pts: dCalcPar, color: BLUE, dash: true }
]);
</script>
</body>
</html>
